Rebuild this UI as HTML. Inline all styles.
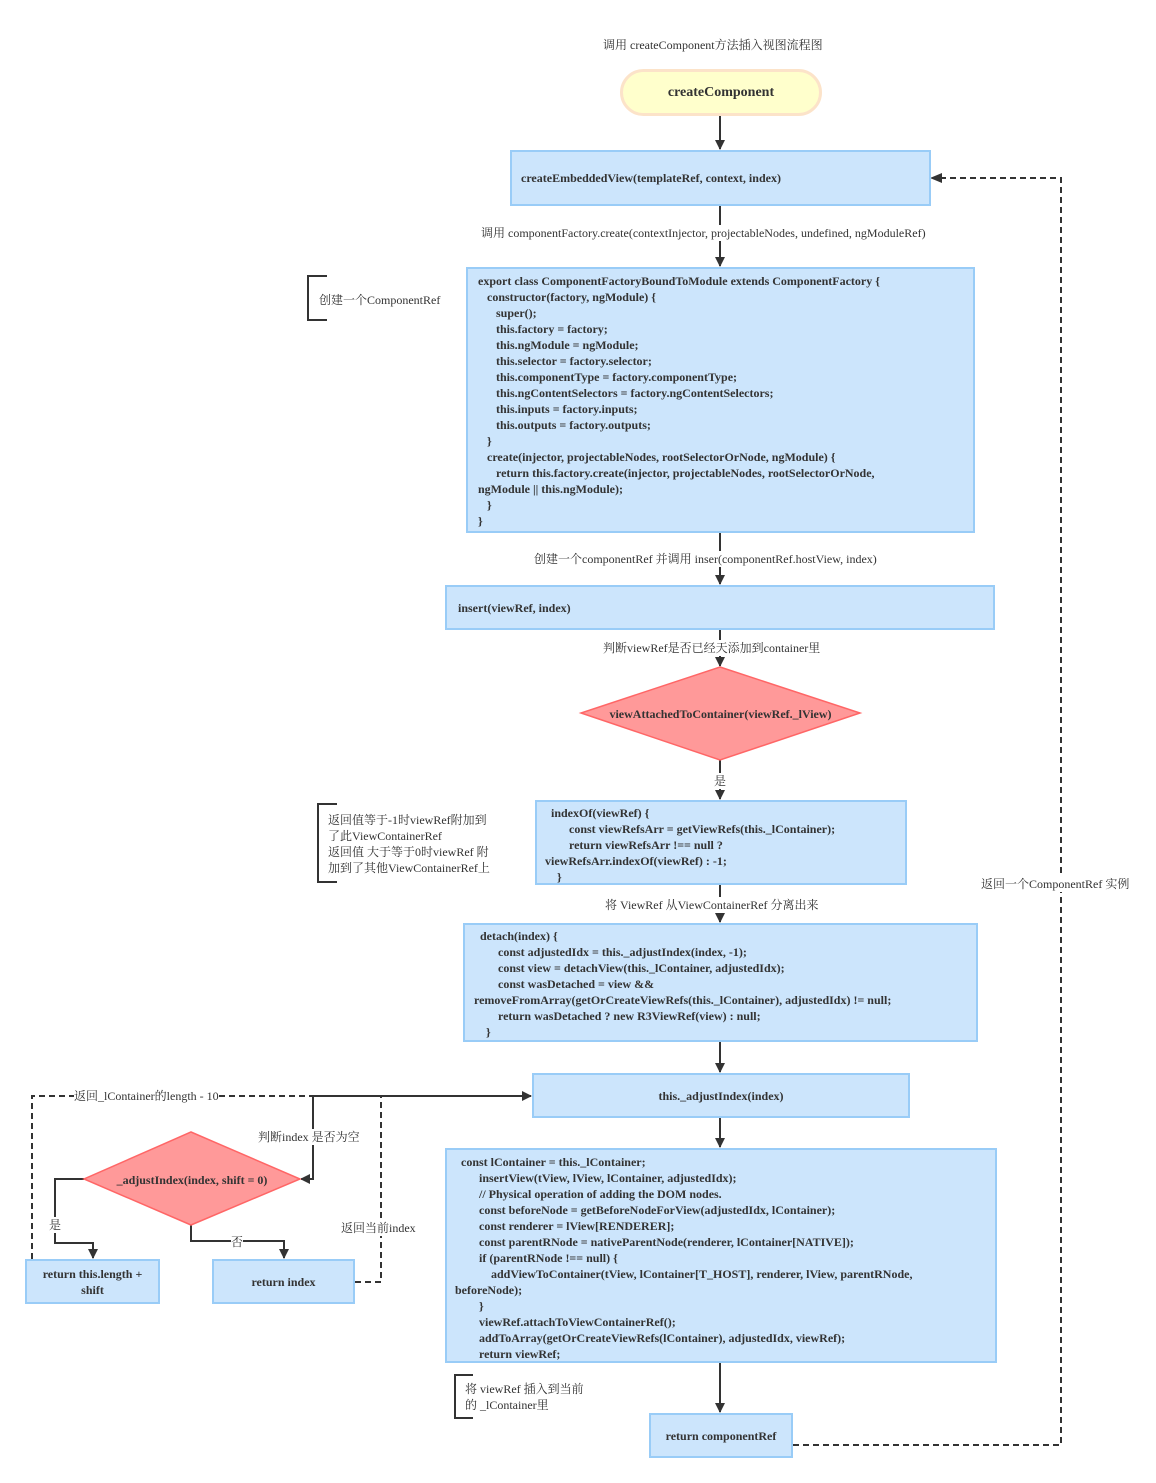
<!DOCTYPE html>
<html><head><meta charset="utf-8"><style>
body{margin:0;width:1156px;height:1483px;background:#fff;position:relative;overflow:hidden;font-family:"Liberation Serif","Noto Serif CJK SC",serif;color:#333;}
.b{position:absolute;background:#cce5fc;border:2px solid #99ccf7;box-sizing:border-box;font-weight:bold;font-size:12px;line-height:16px;}
.c{display:flex;align-items:center;justify-content:center;text-align:center;}
.code{white-space:pre;padding:4px 10px;}
.t{position:absolute;font-size:12px;line-height:16px;white-space:nowrap;background:#fff;}
.n{position:absolute;font-size:12px;line-height:16px;white-space:pre;}
.bw{position:absolute;font-weight:bold;font-size:12px;line-height:16px;white-space:nowrap;text-align:center;}
svg{position:absolute;left:0;top:0;}
</style></head><body>
<svg width="1156" height="1483">
<defs><marker id="a" markerWidth="10" markerHeight="10" refX="9" refY="5" orient="auto" markerUnits="userSpaceOnUse"><path d="M0,0 L10,5 L0,10 z" fill="#333"/></marker></defs>
<g stroke="#333" stroke-width="2" fill="none">
<line x1="720" y1="116" x2="720" y2="149" marker-end="url(#a)"/>
<line x1="720" y1="206" x2="720" y2="266" marker-end="url(#a)"/>
<line x1="720" y1="533" x2="720" y2="584" marker-end="url(#a)"/>
<line x1="720" y1="630" x2="720" y2="666" marker-end="url(#a)"/>
<line x1="720" y1="760" x2="720" y2="799" marker-end="url(#a)"/>
<line x1="720" y1="885" x2="720" y2="922" marker-end="url(#a)"/>
<line x1="720" y1="1042" x2="720" y2="1072" marker-end="url(#a)"/>
<line x1="720" y1="1118" x2="720" y2="1147" marker-end="url(#a)"/>
<line x1="720" y1="1363" x2="720" y2="1412" marker-end="url(#a)"/>
<polyline points="313,1096 531,1096" marker-end="url(#a)"/>
<polyline points="313,1096 313,1179 301,1179" marker-end="url(#a)"/>
<polyline points="84,1179 55,1179 55,1243 93,1243 93,1258" marker-end="url(#a)"/>
<polyline points="191,1225 191,1241 284,1241 284,1258" marker-end="url(#a)"/>
</g>
<g stroke="#333" stroke-width="2" fill="none" stroke-dasharray="6,4">
<polyline points="793,1445 1061,1445 1061,178 940,178"/>
<polyline points="32,1259 32,1096 313,1096"/>
<polyline points="355,1282 381,1282 381,1096"/>
</g>
<path d="M930,178 L942,173 L942,183 z" fill="#333"/>
<polygon points="720,667 860,713 720,760 581,713" fill="#ff9999" stroke="#ff6666" stroke-width="1.5"/>
<polygon points="191,1132 300,1179 191,1225 84,1179" fill="#ff9999" stroke="#ff6666" stroke-width="1.5"/>
<g stroke="#333" stroke-width="2" fill="none">
<polyline points="327,276 308,276 308,320 327,320"/>
<polyline points="337,804 318,804 318,882 337,882"/>
<polyline points="473,1375 455,1375 455,1418 473,1418"/>
</g>
</svg>
<div class="n" style="left:603px;top:37px">调用 createComponent方法插入视图流程图</div>
<div class="c" style="position:absolute;left:620px;top:69px;width:202px;height:47px;box-sizing:border-box;background:#ffffcc;border:3px solid #fce3c9;border-radius:24px;font-weight:bold;font-size:14px;">createComponent</div>
<div class="b" style="left:510px;top:150px;width:421px;height:56px;display:flex;align-items:center;padding-left:9px;">createEmbeddedView(templateRef, context, index)</div>
<div class="t" style="left:481px;top:225px">调用 componentFactory.create(contextInjector, projectableNodes, undefined, ngModuleRef)</div>
<div class="n" style="left:319px;top:292px">创建一个ComponentRef</div>
<div class="b code" style="left:466px;top:267px;width:509px;height:266px;">export class ComponentFactoryBoundToModule extends ComponentFactory {
   constructor(factory, ngModule) {
      super();
      this.factory = factory;
      this.ngModule = ngModule;
      this.selector = factory.selector;
      this.componentType = factory.componentType;
      this.ngContentSelectors = factory.ngContentSelectors;
      this.inputs = factory.inputs;
      this.outputs = factory.outputs;
   }
   create(injector, projectableNodes, rootSelectorOrNode, ngModule) {
      return this.factory.create(injector, projectableNodes, rootSelectorOrNode, 
ngModule || this.ngModule);
   }
}</div>
<div class="t" style="left:534px;top:551px">创建一个componentRef 并调用 inser(componentRef.hostView, index)</div>
<div class="b" style="left:445px;top:585px;width:550px;height:45px;display:flex;align-items:center;padding-left:11px;">insert(viewRef, index)</div>
<div class="t" style="left:603px;top:640px">判断viewRef是否已经天添加到container里</div>
<div class="bw" style="left:581px;top:706px;width:279px;">viewAttachedToContainer(viewRef._lView)</div>
<div class="t" style="left:714px;top:773px">是</div>
<div class="n" style="left:328px;top:812px">返回值等于-1时viewRef附加到
了此ViewContainerRef
返回值 大于等于0时viewRef 附
加到了其他ViewContainerRef上</div>
<div class="b code" style="left:535px;top:800px;width:372px;height:85px;padding:3px 8px;">  indexOf(viewRef) {
        const viewRefsArr = getViewRefs(this._lContainer);
        return viewRefsArr !== null ? 
viewRefsArr.indexOf(viewRef) : -1;
    }</div>
<div class="t" style="left:605px;top:897px">将 ViewRef 从ViewContainerRef 分离出来</div>
<div class="b code" style="left:463px;top:923px;width:515px;height:119px;padding:3px 9px;">  detach(index) {
        const adjustedIdx = this._adjustIndex(index, -1);
        const view = detachView(this._lContainer, adjustedIdx);
        const wasDetached = view &amp;&amp; 
removeFromArray(getOrCreateViewRefs(this._lContainer), adjustedIdx) != null;
        return wasDetached ? new R3ViewRef(view) : null;
    }</div>
<div class="b c" style="left:532px;top:1073px;width:378px;height:45px;">this._adjustIndex(index)</div>
<div class="t" style="left:74px;top:1088px">返回_lContainer的length - 10</div>
<div class="t" style="left:258px;top:1129px">判断index 是否为空</div>
<div class="bw" style="left:84px;top:1172px;width:216px;">_adjustIndex(index, shift = 0)</div>
<div class="t" style="left:49px;top:1217px">是</div>
<div class="t" style="left:231px;top:1234px">否</div>
<div class="t" style="left:341px;top:1220px">返回当前index</div>
<div class="b c" style="left:25px;top:1259px;width:135px;height:45px;">return this.length +<br>shift</div>
<div class="b c" style="left:212px;top:1259px;width:143px;height:45px;">return index</div>
<div class="b code" style="left:445px;top:1148px;width:552px;height:215px;padding:4px 8px;">  const lContainer = this._lContainer;
        insertView(tView, lView, lContainer, adjustedIdx);
        // Physical operation of adding the DOM nodes.
        const beforeNode = getBeforeNodeForView(adjustedIdx, lContainer);
        const renderer = lView[RENDERER];
        const parentRNode = nativeParentNode(renderer, lContainer[NATIVE]);
        if (parentRNode !== null) {
            addViewToContainer(tView, lContainer[T_HOST], renderer, lView, parentRNode, 
beforeNode);
        }
        viewRef.attachToViewContainerRef();
        addToArray(getOrCreateViewRefs(lContainer), adjustedIdx, viewRef);
        return viewRef;</div>
<div class="n" style="left:465px;top:1381px">将 viewRef 插入到当前
的 _lContainer里</div>
<div class="b c" style="left:649px;top:1413px;width:144px;height:45px;">return componentRef</div>
<div class="t" style="left:981px;top:876px">返回一个ComponentRef 实例</div>
</body></html>
